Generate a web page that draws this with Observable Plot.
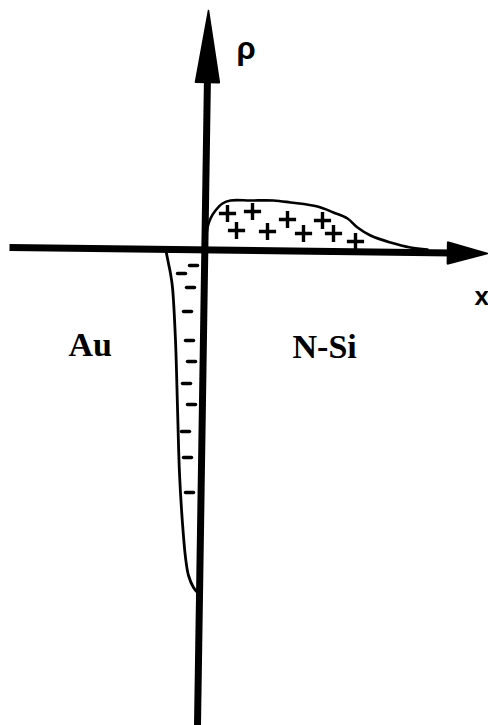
<!DOCTYPE html>
<html>
<head>
<meta charset="utf-8">
<script src="https://cdn.jsdelivr.net/npm/d3@7"></script>
<script src="https://cdn.jsdelivr.net/npm/@observablehq/plot@0.6"></script>
<style>
  html, body { margin: 0; padding: 0; background: #fff; }
  #chart svg { display: block; background: #fff; }
</style>
</head>
<body>
<div id="chart"></div>
<script>
// Depth x (arbitrary units, 0 = Au/N-Si interface), charge density rho (arbitrary units)
const positiveChargeX = [0.1, 0.3, 0.6, 1.1, 1.8, 2.6, 4.6, 6.9, 8.6, 11.3, 12.9, 14.3, 15.3, 16.6, 18.6, 20.6, 22.3];
const positiveChargeRho = [0.4, 2.2, 3.1, 3.9, 4.6, 4.9, 4.9, 4.9, 4.7, 4.3, 3.7, 3.1, 2.2, 1.4, 0.7, 0.2, 0.0];

const negativeChargeX = [-3.9, -3.6, -3.4, -3.2, -2.9, -2.7, -2.5, -2.2, -1.9, -1.6, -1.1, -0.7];
const negativeChargeRho = [0.1, -1.4, -2.4, -3.8, -9.1, -15.8, -22.4, -27.4, -30.8, -32.6, -33.8, -34.3];

const plusSignX = [2.3, 4.8, 3.2, 6.3, 8.3, 9.9, 11.8, 12.9, 15.1];
const plusSignRho = [3.6, 3.8, 1.9, 1.8, 3.0, 1.6, 2.9, 1.6, 0.8];

const minusSignX = [-1.1, -2.3, -1.4, -1.7, -1.5, -1.3, -1.8, -1.3, -1.9, -1.7, -1.5];
const minusSignRho = [-1.6, -2.4, -3.8, -6.2, -9.1, -11.2, -13.4, -15.5, -18.2, -20.8, -24.3];

// Axes (scanned figure is slightly rotated): start and tip
const axisNames = ["x", "rho"];
const axisStartX = [-19.5, -0.7];
const axisStartRho = [0.2, -47.6];
const axisTipX = [28.3, 0.4];
const axisTipRho = [-0.4, 23.9];

// Text labels
const labelTexts = ["ρ", "x", "Au", "N-Si"];
const labelX = [3.2, 27.0, -13.6, 8.8];
const labelRho = [19.1, -5.5, -10.6, -10.8];

// ---- build tables ----
const zipXY = (xs, ys) => xs.map((x, i) => ({x, y: ys[i]}));
const positive = zipXY(positiveChargeX, positiveChargeRho);
const negative = zipXY(negativeChargeX, negativeChargeRho);
const pluses = zipXY(plusSignX, plusSignRho);
const minuses = zipXY(minusSignX, minusSignRho);

const headLen = {x: 4.0, rho: 7.2};
const headHalf = {x: 1.1, rho: 1.2};
const axes = axisNames.map((name, i) => {
  const x1 = axisStartX[i], y1 = axisStartRho[i], x2 = axisTipX[i], y2 = axisTipRho[i];
  const L = Math.hypot(x2 - x1, y2 - y1);
  const ux = (x2 - x1) / L, uy = (y2 - y1) / L;
  const bx = x2 - ux * headLen[name], by = y2 - uy * headLen[name];
  const px = -uy, py = ux;
  return {
    name, x1, y1, x2: bx + ux * 0.5, y2: by + uy * 0.5,
    head: [
      {name, x: x2, y: y2},
      {name, x: bx + px * headHalf[name], y: by + py * headHalf[name]},
      {name, x: bx - px * headHalf[name], y: by - py * headHalf[name]},
      {name, x: x2, y: y2}
    ]
  };
});
const heads = axes.flatMap(a => a.head);

const labels = labelTexts.map((text, i) => ({text, x: labelX[i], y: labelRho[i]}));
const rhoLabel = labels.filter(d => d.text === "ρ");
const xLabel = labels.filter(d => d.text === "x");
const serifLabels = labels.filter(d => d.text === "Au" || d.text === "N-Si");

const chart = Plot.plot({
  width: 488,
  height: 725,
  margin: 0,
  x: {domain: [-20.4, 28.4], axis: null},
  y: {domain: [-47.6, 24.9], axis: null},
  marks: [
    Plot.line(positive, {x: "x", y: "y", stroke: "black", strokeWidth: 2.6, curve: "catmull-rom"}),
    Plot.line(negative, {x: "x", y: "y", stroke: "black", strokeWidth: 2.8, curve: "catmull-rom"}),
    Plot.link(axes, {x1: "x1", y1: "y1", x2: "x2", y2: "y2", stroke: "black", strokeWidth: 7, strokeLinecap: "butt"}),
    Plot.line(heads, {x: "x", y: "y", z: "name", fill: "black", stroke: "black", strokeWidth: 1.5, strokeLinejoin: "miter"}),
    Plot.dot(pluses, {x: "x", y: "y", symbol: "plus", r: 5.6, stroke: "black", strokeWidth: 3.4}),
    Plot.link(minuses, {x1: d => d.x - 0.4, x2: d => d.x + 0.4, y1: "y", y2: "y", stroke: "black", strokeWidth: 3.5, strokeLinecap: "round"}),
    Plot.text(rhoLabel, {x: "x", y: "y", text: "text", textAnchor: "start", lineAnchor: "bottom",
      fontFamily: "Liberation Sans", fontWeight: "bold", fontSize: 31, fill: "black"}),
    Plot.text(xLabel, {x: "x", y: "y", text: "text", textAnchor: "start", lineAnchor: "bottom",
      fontFamily: "Liberation Sans", fontWeight: "bold", fontSize: 26, fill: "black"}),
    Plot.text(serifLabels, {x: "x", y: "y", text: "text", textAnchor: "start", lineAnchor: "bottom",
      fontFamily: "Liberation Serif", fontWeight: "bold", fontSize: 34, fill: "black"})
  ]
});
document.getElementById("chart").appendChild(chart);
</script>
</body>
</html>
